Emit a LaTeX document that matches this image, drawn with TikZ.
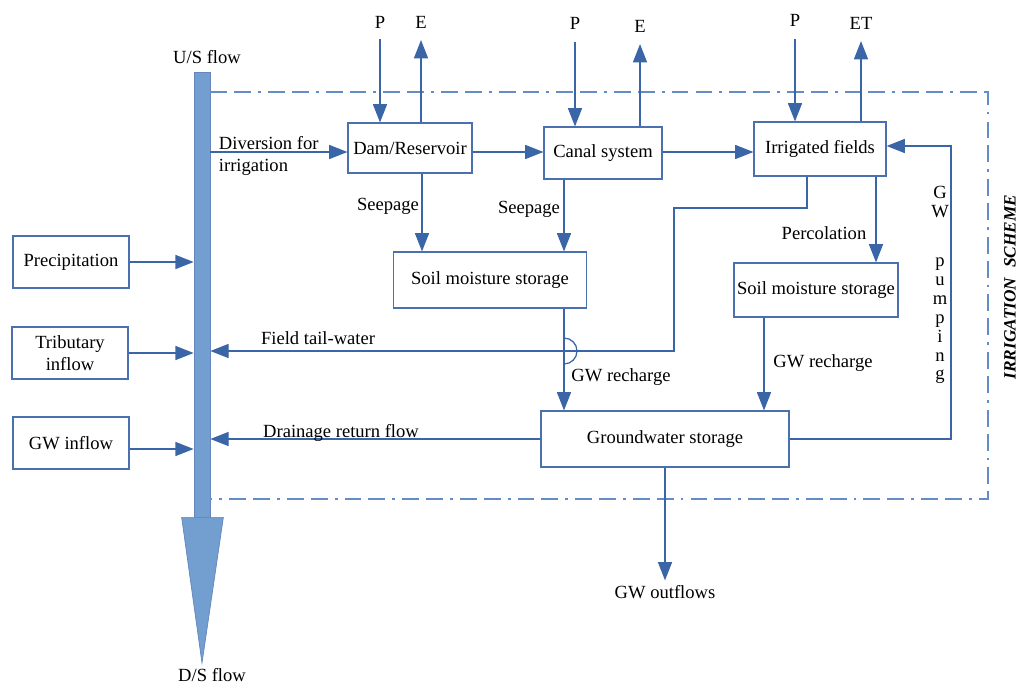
\documentclass[tikz,border=0pt]{standalone}
\usepackage{fontspec}
\setmainfont{Liberation Serif}
\usetikzlibrary{arrows.meta,calc}
\definecolor{lineblue}{RGB}{58,102,168}
\definecolor{boxblue}{RGB}{74,112,176}
\definecolor{barblue}{RGB}{114,159,207}
\definecolor{frameblue}{RGB}{100,140,198}
\newcommand{\px}{0.025cm}
\newcommand{\lblsize}{\fontsize{13.2}{15.6}\selectfont}

\begin{document}
\begin{tikzpicture}[x = 0.025cm, y = -0.025cm, font = \lblsize,
  box/.style = {draw=boxblue, line width=0.8pt, inner sep=0pt},
  boxsize/.style 2 args = {minimum width=#1*\px, minimum height=#2*\px},
  flow/.style = {draw=lineblue, line width=0.9pt, -{Triangle[length=13pt, width=10pt]}},
  wire/.style = {draw=lineblue, line width=0.9pt},
  frame/.style = {draw=frameblue, line width=0.9pt, dash pattern=on 12pt off 5pt on 12pt off 5pt on 2pt off 5pt},
  flowbar/.style = {fill=barblue, draw=boxblue!85, line width=0.5pt}]
\useasboundingbox (0,0) rectangle (1018,684);

\node[flowbar, boxsize={16}{445}, inner sep=0pt] (BAR) at (202,294.5) {};
\coordinate (TIP) at (202,663);
\draw[flowbar] ($(BAR.south west)+(-12,0)$) -- ($(BAR.south east)+(13,0)$) -- (TIP) -- cycle;
\node (US) at (207,57) {U/S flow};
\node (DS) at (212,675) {D/S flow};

\coordinate (FR1) at (988,92);
\coordinate (FR2) at (988,499);
\draw[frame] (BAR.east |- FR1) -- (FR1) -- (FR2) -- (FR2 -| BAR.east);
\node[rotate=90, font=\fontsize{12.3}{14}\selectfont\bfseries\itshape] (SCHEME) at (1010,287) {IRRIGATION\hspace{4pt} SCHEME};

\node[box, boxsize={124}{50}] (DAM) at (410,148) {Dam/Reservoir};
\node[box, boxsize={118}{52}] (CANAL) at (603,153) {Canal system};
\node[box, boxsize={132}{54}] (FIELDS) at (820,149) {Irrigated fields};
\node[box, boxsize={193}{56}] (SM1) at (490,280) {Soil moisture storage};
\node[box, boxsize={164}{54}] (SM2) at (816,290) {Soil moisture storage};
\node[box, boxsize={248}{56}] (GWS) at (665,439) {Groundwater storage};
\node[box, boxsize={116}{52}] (PREC) at (71,262) {Precipitation};
\node[box, boxsize={116}{52}, align=center] (TRIB) at (70,353) {Tributary\\inflow};
\node[box, boxsize={116}{52}] (GWIN) at (71,443) {GW inflow};

\draw[flow] (PREC) -- (PREC -| BAR.west);
\draw[flow] (TRIB) -- (TRIB -| BAR.west);
\draw[flow] ($(GWIN.east)+(0,6)$) -- ($(GWIN.east -| BAR.west)+(0,6)$);

\coordinate (DV) at (300,152);
\node[align=left, anchor=west] (DIV) at (214,156) {Diversion for\\irrigation};
\draw[flow] (BAR.east |- DV) -- (DAM.west |- DV);
\draw[flow] (DAM.east |- DV) -- (CANAL.west |- DV);
\draw[flow] (CANAL.east |- DV) -- (FIELDS.west |- DV);

\node (P1) at (380,22) {P};
\node (E1) at (421,22) {E};
\node (P2) at (575,23) {P};
\node (E2) at (640,26) {E};
\node (P3) at (795,20) {P};
\node (ET) at (861,23) {ET};
\draw[flow, shorten <=4pt] (P1) -- (P1 |- DAM.north);
\draw[flow, shorten >=5pt] (E1 |- DAM.north) -- (E1);
\draw[flow, shorten <=6pt] (P2) -- (P2 |- CANAL.north);
\draw[flow, shorten >=5pt] (E2 |- CANAL.north) -- (E2);
\draw[flow, shorten <=6pt] (P3) -- (P3 |- FIELDS.north);
\draw[flow, shorten >=5pt] (ET |- FIELDS.north) -- (ET);

\coordinate (S1) at (422,0);
\coordinate (S2) at (564,0);
\coordinate (S3) at (876,0);
\coordinate (S4) at (764,0);
\draw[flow] (DAM.south -| S1) -- (S1 |- SM1.north);
\draw[flow] (CANAL.south -| S2) -- (S2 |- SM1.north);
\draw[flow] (FIELDS.south -| S3) -- (S3 |- SM2.north);
\draw[flow] (SM1.south -| S2) -- (S2 |- GWS.north);
\draw[flow] (SM2.south -| S4) -- (S4 |- GWS.north);
\node (SEEP1) at (388,206) {Seepage};
\node (SEEP2) at (529,209) {Seepage};
\node (PERC) at (824,233) {Percolation};
\node (REC1) at (621,377) {GW recharge};
\node (REC2) at (823,363) {GW recharge};

\coordinate (T1) at (807,208);
\coordinate (T2) at (674,351);
\draw[flow] (FIELDS.south -| T1) -- (T1) -| (T2) -- (T2 -| BAR.east);
\draw[wire] (564,338) arc[start angle=-90, end angle=90, radius=13];
\node (TAIL) at (318,338) {Field tail-water};

\draw[flow] (GWS.west) -- (GWS.west -| BAR.east);
\node (DRAIN) at (341,433) {Drainage return flow};

\coordinate (PU) at (951,146);
\draw[flow] (GWS.east) -| (PU) -- (PU -| FIELDS.east);
\node[align=center, inner sep=0pt, font=\fontsize{13.2}{13.4}\selectfont] (PUMP) at (940,285) {G\\W\\[22pt]p\\u\\m\\p\\i\\n\\g};

\node (OUT) at (665,592) {GW outflows};
\draw[flow] (GWS.south) -- (GWS.south |- OUT.north);
\end{tikzpicture}
\end{document}
